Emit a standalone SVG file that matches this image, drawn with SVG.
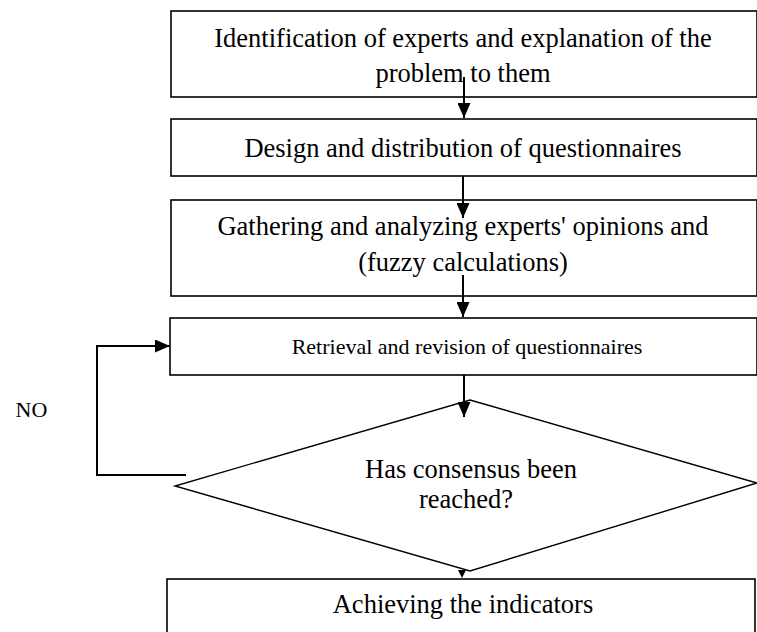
<svg xmlns="http://www.w3.org/2000/svg" width="757" height="632" viewBox="0 0 757 632">
<style>
.box{fill:#fff;stroke:#000;stroke-width:1.6}
.dia{fill:#fff;stroke:#000;stroke-width:1.4}
.t{font-family:"Liberation Serif","Times New Roman",serif;font-size:26.5px;fill:#000;text-anchor:middle}
.s{font-size:22px}
.c{fill:none;stroke:#000;stroke-width:2}
</style>
<defs>
<marker id="ah" viewBox="0 0 15 13" refX="15" refY="6.5" markerWidth="15" markerHeight="13" markerUnits="userSpaceOnUse" orient="auto">
<path d="M0,0 L15,6.5 L0,13 z" fill="#000"/>
</marker>
</defs>
<g id="n1"><rect class="box" x="171" y="11" width="586" height="86"/>
<text class="t" x="463" y="47">Identification of experts and explanation of the</text>
<text class="t" x="463" y="82">problem to them</text></g>
<g id="n2"><rect class="box" x="171" y="119" width="586" height="57"/>
<text class="t" x="463" y="157">Design and distribution of questionnaires</text></g>
<g id="n3"><rect class="box" x="171" y="200" width="586" height="96"/>
<text class="t" x="463" y="235">Gathering and analyzing experts' opinions and</text>
<text class="t" x="463" y="271">(fuzzy calculations)</text></g>
<g id="n4"><rect class="box" x="170" y="318" width="587" height="57"/>
<text class="t s" x="467" y="354">Retrieval and revision of questionnaires</text></g>
<g id="n5"><polygon class="dia" points="470,400 757,483 470,571 175,486"/>
<text class="t" x="471" y="478">Has consensus been</text>
<text class="t" x="466" y="508">reached?</text></g>
<g id="n6"><rect class="box" x="167" y="579" width="588" height="70"/>
<text class="t" x="463" y="613">Achieving the indicators</text></g>
<g id="lbl"><text class="t s" x="31.5" y="417">NO</text></g>
<g id="connectors">
<line class="c" x1="464" y1="77" x2="464" y2="118" marker-end="url(#ah)"/>
<line class="c" x1="463" y1="176" x2="463" y2="218" marker-end="url(#ah)"/>
<line class="c" x1="463" y1="275" x2="463" y2="317" marker-end="url(#ah)"/>
<line class="c" x1="464" y1="375" x2="464" y2="417" marker-end="url(#ah)"/>
<polyline class="c" points="186,475 97,475 97,346 170,346" marker-end="url(#ah)"/>
<polygon points="458,570 466,570 462,578" fill="#000"/>
</g>
</svg>
